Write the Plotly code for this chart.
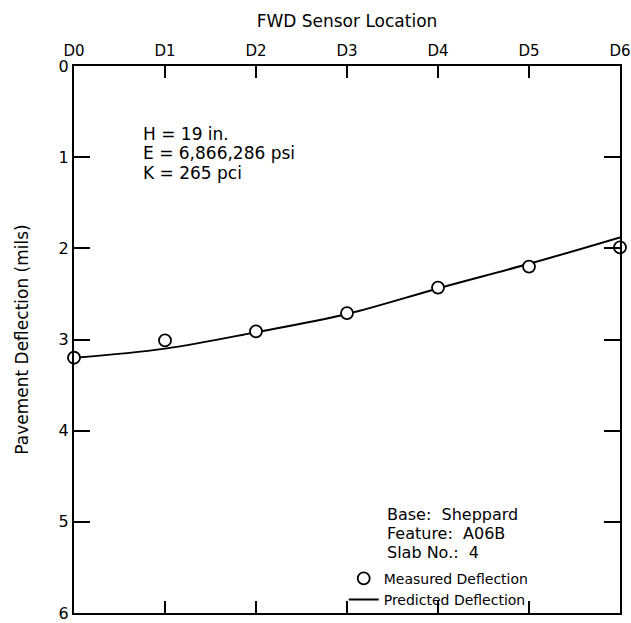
import plotly.graph_objects as go

sensors = ["D0", "D1", "D2", "D3", "D4", "D5", "D6"]
measured = [3.20, 3.01, 2.91, 2.71, 2.43, 2.20, 1.99]
predicted = [3.20, 3.10, 2.92, 2.72, 2.44, 2.17, 1.88]
y_ticks = [0, 1, 2, 3, 4, 5, 6]
params_text = ["H = 19 in.", "E = 6,866,286 psi", "K = 265 pci"]
info_text = ["Base:  Sheppard", "Feature:  A06B", "Slab No.:  4"]

FONT = "DejaVu Sans"

fig = go.Figure()
fig.add_trace(go.Scatter(
    x=sensors, y=predicted, mode="lines", name="Predicted Deflection",
    line=dict(color="black", width=2, shape="spline", smoothing=1.0),
))
fig.add_trace(go.Scatter(
    x=sensors, y=measured, mode="markers", name="Measured Deflection",
    marker=dict(symbol="circle", size=12, color="white",
                line=dict(color="black", width=1.8)),
    cliponaxis=False,
))

fig.update_layout(
    width=631, height=623,
    margin=dict(l=74, r=11, t=66, b=7),
    paper_bgcolor="white", plot_bgcolor="white",
    font=dict(family=FONT, size=16, color="black"),
    showlegend=True,
    legend=dict(x=0.494, y=0.092, xanchor="left", yanchor="top",
                traceorder="reversed", bgcolor="rgba(0,0,0,0)",
                font=dict(size=14), tracegroupgap=0),
    xaxis=dict(
        side="top", range=[0, 6], type="category",
        categoryorder="array", categoryarray=sensors,
        showline=True, linecolor="black", linewidth=2, mirror="allticks",
        ticks="inside", ticklen=12, tickwidth=1.5, tickcolor="black",
        showgrid=False, zeroline=False, automargin=False,
        tickfont=dict(size=15), ticklabelstandoff=2,
        title=dict(text="FWD Sensor Location", font=dict(size=17), standoff=10),
    ),
    yaxis=dict(
        range=[6, 0], tickvals=y_ticks,
        showline=True, linecolor="black", linewidth=2, mirror="allticks",
        ticks="inside", ticklen=16, tickwidth=1.5, tickcolor="black",
        showgrid=False, zeroline=False, automargin=False,
        tickfont=dict(size=16), ticklabelstandoff=0,
        title=dict(text="Pavement Deflection (mils)", font=dict(size=17), standoff=26),
    ),
)

for i, t in enumerate(params_text):
    fig.add_annotation(x=0.122, y=0.876 - i * 0.0355, xref="paper", yref="paper",
                       text=t, showarrow=False, xanchor="left", yanchor="middle",
                       font=dict(size=17))
for i, t in enumerate(info_text):
    fig.add_annotation(x=0.57, y=0.18 - i * 0.035, xref="paper", yref="paper",
                       text=t, showarrow=False, xanchor="left", yanchor="middle",
                       font=dict(size=16))

fig.write_html(
    "out.html",
    config={"displayModeBar": False},
    post_script="document.body.style.margin='0';document.body.style.overflow='hidden';",
)
